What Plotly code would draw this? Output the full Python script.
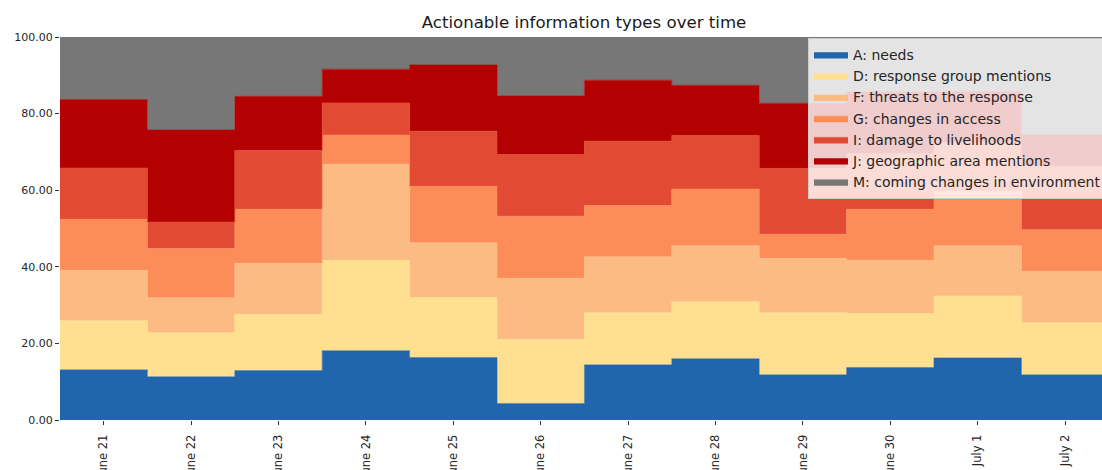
import numpy as np
import plotly.graph_objects as go

dates = ["June 21", "June 22", "June 23", "June 24", "June 25", "June 26",
         "June 27", "June 28", "June 29", "June 30", "July 1", "July 2"]

A_needs = [13.1, 11.3, 12.9, 18.1, 16.3, 4.3, 14.4, 16.0, 11.8, 13.7, 16.2, 11.8]
D_response_group = [12.8, 11.5, 14.7, 23.6, 15.7, 16.8, 13.6, 14.9, 16.2, 14.1, 16.2, 13.6]
F_threats = [13.2, 9.1, 13.3, 25.1, 14.3, 15.9, 14.6, 14.6, 14.2, 13.9, 13.1, 13.4]
G_access = [13.3, 12.9, 14.1, 7.6, 14.7, 16.2, 13.4, 14.8, 6.3, 13.3, 14.2, 10.9]
I_livelihoods = [13.4, 6.9, 15.4, 8.4, 14.4, 16.1, 16.8, 14.0, 17.2, 14.5, 12.7, 16.6]
J_geographic = [17.9, 24.0, 14.1, 8.8, 17.3, 15.3, 15.9, 13.1, 17.0, 16.2, 13.4, 8.1]
M_coming = [16.3, 24.3, 15.5, 8.4, 7.3, 15.4, 11.3, 12.6, 17.3, 14.3, 14.2, 25.6]

series = [
    ("A: needs", A_needs, "#2166ac"),
    ("D: response group mentions", D_response_group, "#fee090"),
    ("F: threats to the response", F_threats, "#fdbb84"),
    ("G: changes in access", G_access, "#fc8d59"),
    ("I: damage to livelihoods", I_livelihoods, "#e34a33"),
    ("J: geographic area mentions", J_geographic, "#b30000"),
    ("M: coming changes in environment", M_coming, "#777777"),
]

n = len(dates)
edges = np.arange(n + 1) - 0.5

fig = go.Figure()
for name, vals, col in series:
    yv = list(vals) + [vals[-1]]
    fig.add_trace(go.Scatter(
        x=edges, y=yv, name=name, mode="lines",
        line=dict(shape="hv", width=0.6, color=col),
        fillcolor=col, stackgroup="one",
        hoverinfo="skip",
    ))

W, H = 1102, 470
ML, MT, MB = 60, 37, 50
plot_w = W - ML
plot_h = H - MT - MB

font_family = "DejaVu Sans"
fig.update_layout(
    width=W, height=H,
    margin=dict(l=ML, r=0, t=MT, b=MB, autoexpand=False),
    paper_bgcolor="white", plot_bgcolor="white",
    title=dict(text="Actionable information types over time",
               x=(ML + W) / 2 / W + 3 / W, xanchor="center", y=1 - 22 / H, yanchor="middle",
               font=dict(family=font_family, size=16.6, color="#1a1a1a")),
    showlegend=True,
    legend=dict(
        x=748 / plot_w, y=1 - 1 / plot_h, xanchor="left", yanchor="top",
        bgcolor="rgba(255,255,255,0.8)", bordercolor="#cccccc", borderwidth=1,
        font=dict(family=font_family, size=14, color="#262626"),
        traceorder="normal", itemwidth=34,
    ),
    xaxis=dict(
        range=[-0.5, -0.5 + plot_w / 87.4], tickmode="array",
        tickvals=list(range(n)), ticktext=dates, tickangle=-90,
        showgrid=False, zeroline=False, showline=False,
        ticks="outside", ticklen=4, tickcolor="#333333",
        ticklabelstandoff=5,
        tickfont=dict(family=font_family, size=11.5, color="#262626"),
        automargin=False,
    ),
    yaxis=dict(
        range=[0, 100], tickmode="array", tickvals=[0, 20, 40, 60, 80, 100],
        tickformat=".2f", showgrid=False, zeroline=False, showline=False,
        ticks="outside", ticklen=4, tickcolor="#333333",
        tickfont=dict(family=font_family, size=11, color="#262626"),
        automargin=False,
    ),
)

fig.write_html(
    "out.html",
    config={"displayModeBar": False},
    post_script="document.body.style.margin='0';document.body.style.overflow='hidden';",
)
